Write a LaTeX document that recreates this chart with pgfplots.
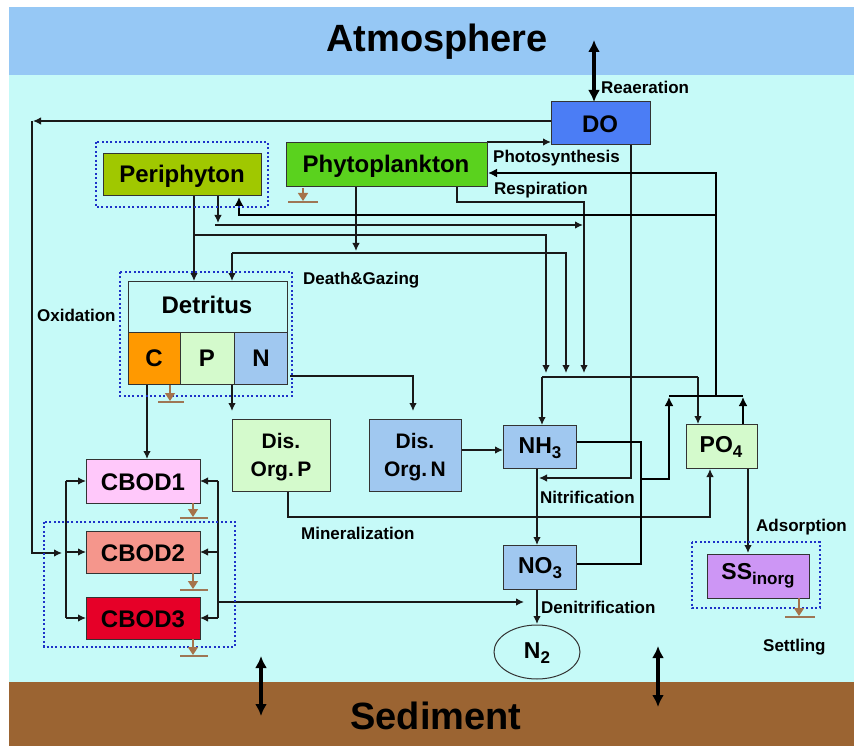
\documentclass[border=0pt]{standalone}
\usepackage{pgfplots}
\pgfplotsset{compat=1.18}
\usepackage{fontspec}
\setmainfont{Liberation Sans}
\usetikzlibrary{arrows.meta}
\definecolor{atm}{RGB}{150,200,245}
\definecolor{water}{RGB}{198,250,248}
\definecolor{sed}{RGB}{155,100,50}
\definecolor{doC}{RGB}{75,125,245}
\definecolor{phyto}{RGB}{90,210,30}
\definecolor{peri}{RGB}{160,200,0}
\definecolor{cC}{RGB}{255,153,0}
\definecolor{pC}{RGB}{212,250,204}
\definecolor{nC}{RGB}{160,200,240}
\definecolor{cb1}{RGB}{255,200,250}
\definecolor{cb2}{RGB}{245,150,140}
\definecolor{cb3}{RGB}{230,0,40}
\definecolor{ssC}{RGB}{205,150,245}
\definecolor{dotC}{RGB}{30,50,200}
\definecolor{setC}{RGB}{165,115,75}
\newcommand{\lab}{\fontsize{17}{19}\selectfont\bfseries}
\newcommand{\bxf}{\fontsize{24}{26}\selectfont\bfseries}
\tikzset{
  tip/.style={-{Latex[length=8pt,width=7.5pt]}},
  thin line/.style={line width=1.3pt,black!90},
  thick line/.style={line width=2.6pt,black},
  dotbox/.style={draw=dotC,line width=2.2pt,dash pattern=on 2pt off 2.4pt},
  bx/.style={draw=black!80,line width=1pt},
  st/.style={setC,line width=1.6pt,-{Triangle[length=8pt,width=10pt]}},
  stl/.style={setC!80!gray,line width=1.3pt}}
\begin{document}
\begin{tikzpicture}
\begin{axis}[width=854pt,height=746pt,scale only axis,xmin=0,xmax=854,ymin=0,ymax=746,y dir=reverse,axis lines=none,clip=false]
% backgrounds
\fill[white] (0,0) rectangle (854,746);
\fill[atm] (9,7) rectangle (854,75);
\fill[water] (9,75) rectangle (854,682);
\fill[sed] (9,682) rectangle (854,746);
\node[font=\fontsize{38}{40}\selectfont\bfseries] at (437,42) {Atmosphere};
\node[font=\fontsize{38}{40}\selectfont\bfseries] at (436,716) {Sediment};
% ---------- lines (thin) ----------
\draw[thin line,tip] (551,121) -- (33,121);
\draw[thin line,tip] (32,121) -- (32,553) -- (62,553);
\draw[thin line,tip] (487,142) -- (551,142);
\draw[thin line,tip] (457,187) -- (457,202) -- (584,202) -- (584,373);
\draw[thin line,tip] (218,196) -- (218,223);
\draw[thin line,tip] (215,225) -- (583,225);
\draw[thin line,tip] (194,196) -- (194,281);
\draw[thin line,tip] (194,235) -- (546,235) -- (546,373);
\draw[thin line,tip] (356,187) -- (356,251);
\draw[thin line,tip] (232,253) -- (566,253) -- (566,373);
\draw[thin line,tip] (232,253) -- (232,281);
\draw[thin line] (542,377) -- (698,377);
\draw[thin line,tip] (542,377) -- (542,425);
\draw[thin line,tip] (698,377) -- (698,424);
\draw[thin line,tip] (631,145) -- (631,478) -- (539,478);
\draw[thin line,tip] (537,468) -- (537,545);
\draw[thin line,tip] (461,450) -- (503,450);
\draw[thin line,tip] (147,384) -- (147,459);
\draw[thin line,tip] (232,384) -- (232,411);
\draw[thin line,tip] (290,376) -- (413,376) -- (413,411);
\draw[thin line,tip] (288,491) -- (288,517) -- (710,517) -- (710,469);
\draw[thin line] (66,481) -- (66,618);
\draw[thin line,tip] (66,481) -- (86,481);
\draw[thin line,tip] (66,552) -- (86,552);
\draw[thin line,tip] (66,618) -- (86,618);
\draw[thin line] (218,481) -- (218,618);
\draw[thin line,tip] (218,481) -- (200,481);
\draw[thin line,tip] (218,552) -- (200,552);
\draw[thin line,tip] (218,618) -- (200,618);
\draw[thin line,tip] (218,602) -- (524,602);
\draw[thin line,tip] (537,589) -- (537,624);
\draw[thin line,tip] (748,468) -- (748,553);
% ---------- thick lines ----------
\draw[thick line,-{Latex[length=9pt,width=9pt]}] (716,396) -- (716,173) -- (488,173);
\draw[thick line,-{Latex[length=9pt,width=9pt]}] (716,215) -- (239,215) -- (239,197);
\draw[thick line] (576,442) -- (641,442) -- (641,564) -- (576,564);
\draw[thick line,-{Latex[length=9pt,width=9pt]}] (641,479) -- (669,479) -- (669,397);
\draw[thick line] (669,396) -- (743,396);
\draw[thick line,-{Latex[length=9pt,width=9pt]}] (743,424) -- (743,397);
\draw[line width=3.2pt,{Latex[length=12pt,width=12pt]}-{Latex[length=12pt,width=12pt]}] (594,40) -- (594,102);
\draw[line width=3.2pt,{Latex[length=12pt,width=12pt]}-{Latex[length=12pt,width=12pt]}] (261,656) -- (261,716);
\draw[line width=3.2pt,{Latex[length=12pt,width=12pt]}-{Latex[length=12pt,width=12pt]}] (658,646) -- (658,707);
% ---------- dotted group boxes ----------
\draw[dotbox] (96,142) rectangle (268,207);
\draw[dotbox] (120,272) rectangle (292,396);
\draw[dotbox] (44,522) rectangle (235,647);
\draw[dotbox] (692,542) rectangle (820,608);
% ---------- boxes ----------
\draw[bx,fill=doC] (551,102) rectangle (650,145);
\node[font=\bxf] at (600,124) {DO};
\draw[bx,fill=phyto] (286,143) rectangle (487,187);
\node[font=\bxf] at (386,166) {Phytoplankton};
\draw[bx,fill=peri] (103,154) rectangle (261,196);
\node[font=\bxf] at (182,176) {Periphyton};
\draw[bx,fill=water] (128,281) rectangle (287,332);
\node[font=\bxf] at (207,305) {Detritus};
\draw[bx,fill=cC] (128,332) rectangle (180,384);
\draw[bx,fill=pC] (180,332) rectangle (234,384);
\draw[bx,fill=nC] (234,332) rectangle (287,384);
\node[font=\bxf] at (154,358) {C};
\node[font=\bxf] at (207,358) {P};
\node[font=\bxf] at (261,358) {N};
\draw[bx,fill=cb1] (86,459) rectangle (200,503);
\node[font=\bxf] at (143,482) {CBOD1};
\draw[bx,fill=cb2] (86,531) rectangle (200,573);
\node[font=\bxf] at (143,553) {CBOD2};
\draw[bx,fill=cb3] (86,597) rectangle (200,639);
\node[font=\bxf] at (143,619) {CBOD3};
\draw[bx,fill=pC] (232,419) rectangle (330,491);
\node[font=\fontsize{21}{24}\selectfont\bfseries] at (281,441) {Dis.};
\node[font=\fontsize{21}{24}\selectfont\bfseries] at (281,471) {Org.\,P};
\draw[bx,fill=nC] (369,419) rectangle (461,491);
\node[font=\fontsize{21}{24}\selectfont\bfseries] at (415,441) {Dis.};
\node[font=\fontsize{21}{24}\selectfont\bfseries] at (415,471) {Org.\,N};
\draw[bx,fill=nC] (503,425) rectangle (576,468);
\node[font=\fontsize{23}{24}\selectfont\bfseries] at (540,448) {NH\raisebox{-5pt}{\fontsize{17}{18}\selectfont 3}};
\draw[bx,fill=nC] (503,545) rectangle (576,589);
\node[font=\fontsize{23}{24}\selectfont\bfseries] at (540,568) {NO\raisebox{-5pt}{\fontsize{17}{18}\selectfont 3}};
\draw[bx,fill=pC] (686,424) rectangle (757,468);
\node[font=\fontsize{23}{24}\selectfont\bfseries] at (721,447) {PO\raisebox{-5pt}{\fontsize{17}{18}\selectfont 4}};
\draw[bx,fill=ssC] (707,554) rectangle (809,598);
\node[font=\fontsize{23}{24}\selectfont\bfseries] at (758,576) {SS\raisebox{-5pt}{\fontsize{17}{18}\selectfont inorg}};
\draw[black!80,line width=1pt,fill=water] (537,652) ellipse [x radius=43pt,y radius=27pt];
\node[font=\fontsize{23}{24}\selectfont\bfseries] at (537,653) {N\raisebox{-5pt}{\fontsize{17}{18}\selectfont 2}};
% ---------- settling symbols ----------
\draw[st] (303,188) -- (303,201);
\draw[stl] (288,202) -- (318,202);
\draw[st] (170,385) -- (170,401);
\draw[stl] (158,402) -- (184,402);
\draw[st] (193,503) -- (193,517);
\draw[stl] (180,518) -- (208,518);
\draw[st] (193,573) -- (193,589);
\draw[stl] (180,590) -- (208,590);
\draw[st] (193,639) -- (193,655);
\draw[stl] (180,656) -- (208,656);
\draw[st] (799,598) -- (799,616);
\draw[stl] (785,617) -- (815,617);
% ---------- labels ----------
\node[font=\lab,anchor=west,inner sep=0] at (601,87) {Reaeration};
\node[font=\lab,anchor=west,inner sep=0] at (493,158) {Photosynthesis};
\node[font=\lab,anchor=west,inner sep=0] at (494,190) {Respiration};
\node[font=\lab,anchor=west,inner sep=0] at (303,280) {Death\&Gazing};
\node[font=\lab,anchor=west,inner sep=0] at (37,315) {Oxidation};
\node[font=\lab,anchor=west,inner sep=0] at (301,533) {Mineralization};
\node[font=\lab,anchor=west,inner sep=0] at (540,497) {Nitrification};
\node[font=\lab,anchor=west,inner sep=0] at (541,607) {Denitrification};
\node[font=\lab,anchor=west,inner sep=0] at (756,527) {Adsorption};
\node[font=\lab,anchor=west,inner sep=0] at (763,647) {Settling};
\end{axis}
\end{tikzpicture}
\end{document}
